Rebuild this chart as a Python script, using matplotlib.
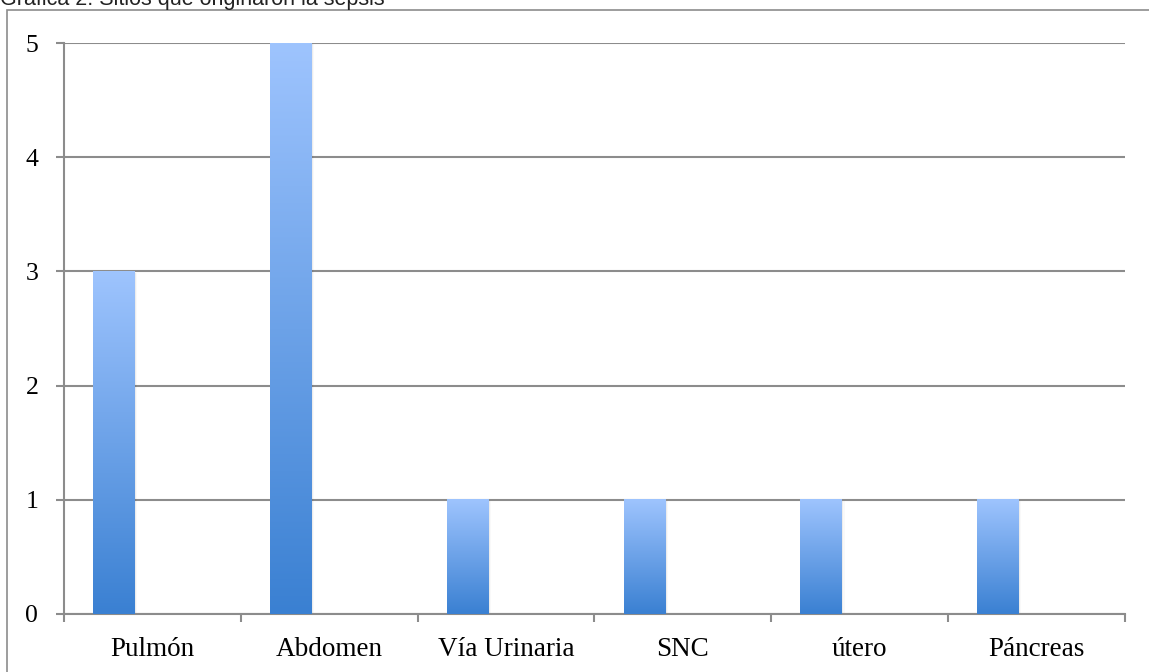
import matplotlib
matplotlib.use("Agg")
import matplotlib.pyplot as plt
import numpy as np
from matplotlib.colors import LinearSegmentedColormap
from matplotlib.patches import Rectangle

# Sitios de origen de la sepsis
categories = ["Pulmón", "Abdomen", "Vía Urinaria", "SNC", "útero", "Páncreas"]
counts = [3, 5, 1, 1, 1, 1]
title = "Gráfica 2. Sitios que originaron la sepsis"

W, H = 1149, 672
fig = plt.figure(figsize=(W / 100, H / 100), dpi=100)

# outer frame of the chart area
frame = Rectangle((7 / W, -0.05), 1.2, 1 - 10 / H + 0.05, transform=fig.transFigure,
                  fill=False, edgecolor="#8c8c8c", linewidth=1.2, zorder=0)
fig.patches.append(frame)
fig.text(0.0, 1 - 5 / H, title, family="Liberation Sans", fontsize=15.5,
         va="baseline", ha="left", color="#222222")

ax = fig.add_axes([64 / W, 58 / H, (1125 - 64) / W, (614 - 43) / H])
ax.set_xlim(-0.5, len(categories) - 0.5)
ax.set_ylim(0, 5)

grid_c = "#8c8c8c"
for s in ["top", "right"]:
    ax.spines[s].set_visible(False)
ax.spines["left"].set_color(grid_c)
ax.spines["bottom"].set_color(grid_c)
ax.spines["left"].set_linewidth(1.5)
ax.spines["bottom"].set_linewidth(1.5)

ax.set_yticks(range(0, 6))
ax.yaxis.grid(True, color=grid_c, linewidth=1.5)
ax.set_axisbelow(True)
ax.tick_params(axis="y", length=5.5, width=1.5, color=grid_c, pad=13,
               labelsize=18.5)

# category labels at centres, tick marks at slot boundaries
x = np.arange(len(categories))
ax.set_xticks(x)
ax.set_xticklabels(categories)
ax.set_xticks(np.arange(len(categories) + 1) - 0.5, minor=True)
ax.tick_params(axis="x", which="major", length=0, pad=16.5, labelsize=19.5)
ax.tick_params(axis="x", which="minor", length=6, width=1.5, color=grid_c)
for lab in ax.get_xticklabels() + ax.get_yticklabels():
    lab.set_family("Liberation Serif")

# gradient bars, sitting in the left part of each slot
cmap = LinearSegmentedColormap.from_list("bar", ["#3a80d2", "#9ec4fe"])
grad = np.linspace(0, 1, 256).reshape(-1, 1)
bar_w = 0.232
offset = -0.5 + 0.164
for i, v in enumerate(counts):
    left = x[i] + offset
    # soft shadow on the right side
    for k, a in enumerate([0.08, 0.05, 0.025]):
        ax.add_patch(Rectangle((left + 0.006 * (k + 1), 0), bar_w, v - 0.01,
                               facecolor="#000000", alpha=a, linewidth=0, zorder=2))
    ax.imshow(grad, extent=[left, left + bar_w, 0, v], origin="lower",
              aspect="auto", cmap=cmap, zorder=3)

ax.set_xlim(-0.5, len(categories) - 0.5)
ax.set_ylim(0, 5)

fig.savefig("out.png", dpi=100)
